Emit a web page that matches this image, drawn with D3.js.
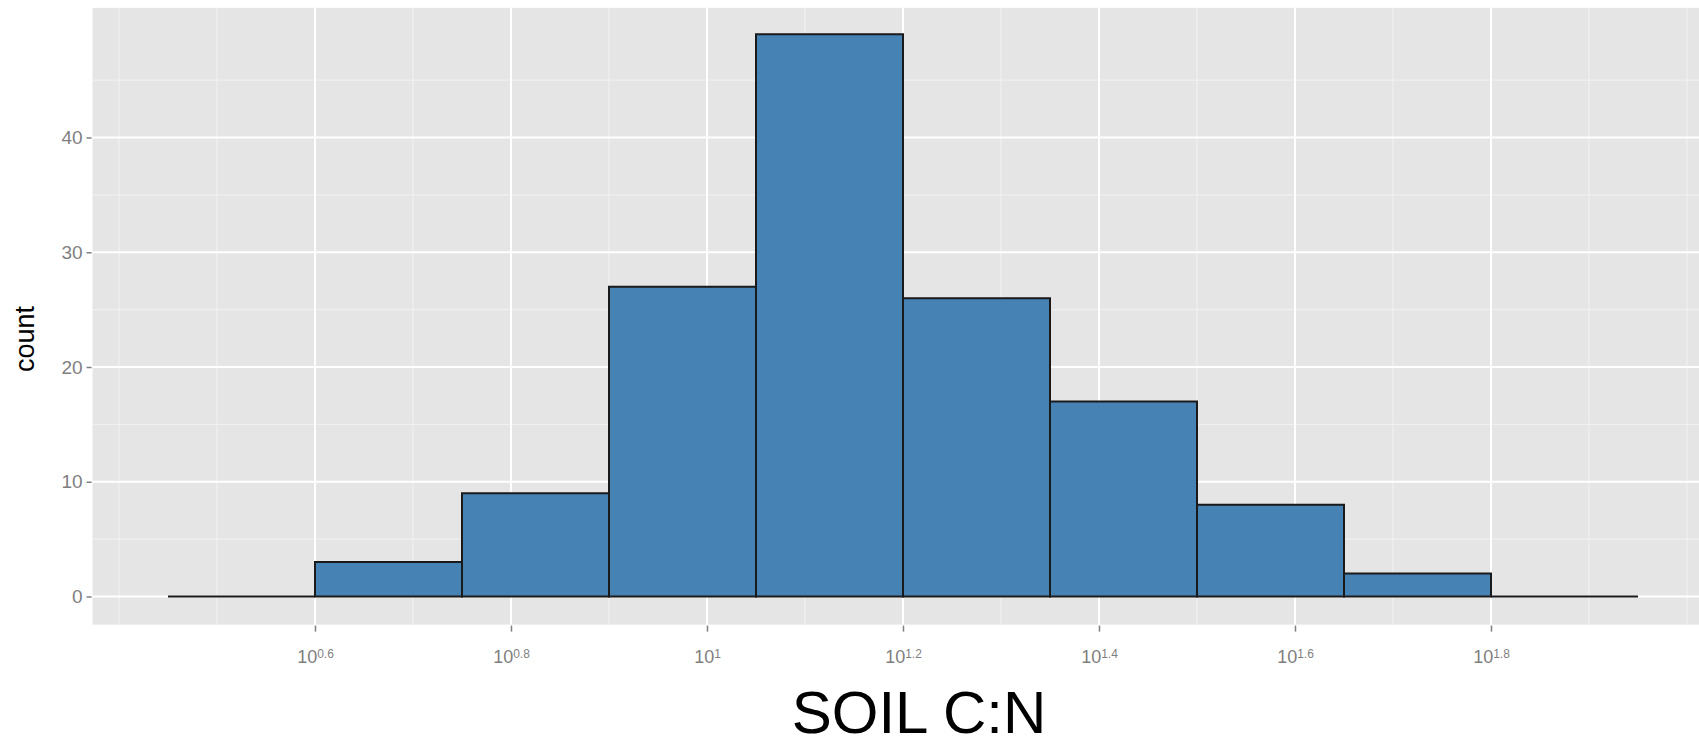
<!DOCTYPE html>
<html>
<head>
<meta charset="utf-8">
<script src="https://cdn.jsdelivr.net/npm/d3@7"></script>
<style>
  body { margin: 0; background: #fff; }
  svg { display: block; font-family: "Liberation Sans", Arial, sans-serif; }
</style>
</head>
<body>
<svg id="chart" width="1699" height="749"></svg>
<script>
// histogram of log10(soil C:N), bins of 0.15
const binStarts = [0.45, 0.6, 0.75, 0.9, 1.05, 1.2, 1.35, 1.5, 1.65, 1.8];
const counts    = [0, 3, 9, 27, 49, 26, 17, 8, 2, 0];
const binWidth = 0.15;

const xTicks = [0.6, 0.8, 1.0, 1.2, 1.4, 1.6, 1.8];
const xTickExp = ['0.6', '0.8', '1', '1.2', '1.4', '1.6', '1.8'];
const xMinor = [0.4, 0.5, 0.7, 0.9, 1.1, 1.3, 1.5, 1.7, 1.9, 2.0];
const yTicks = [0, 10, 20, 30, 40];
const yMinor = [5, 15, 25, 35, 45];

const svg = d3.select('#chart');

const x = d3.scaleLinear().domain([0.6, 1.8]).range([315, 1491]);
const y = d3.scaleLinear().domain([0, 40]).range([596.5, 137.5]);

// ggplot style 5% expansion
const xLo = 0.373, xHi = 2.025;
const yLo = -2.45, yHi = 51.3;

const panel = svg.append('g').attr('class', 'panel');

panel.append('rect')
    .attr('x', x(xLo))
    .attr('y', y(yHi))
    .attr('width', x(xHi) - x(xLo))
    .attr('height', y(yLo) - y(yHi))
    .attr('fill', '#e5e5e5');

// minor grid
panel.selectAll('.xminor')
    .data(xMinor)
    .enter()
    .append('line')
    .attr('x1', d => x(d)).attr('x2', d => x(d))
    .attr('y1', y(yHi)).attr('y2', y(yLo))
    .attr('stroke', '#f2f2f2')
    .attr('stroke-width', 1);

panel.selectAll('.yminor')
    .data(yMinor)
    .enter()
    .append('line')
    .attr('x1', x(xLo)).attr('x2', x(xHi))
    .attr('y1', d => y(d)).attr('y2', d => y(d))
    .attr('stroke', '#f2f2f2')
    .attr('stroke-width', 1);

// major grid
panel.selectAll('.xmajor')
    .data(xTicks)
    .enter()
    .append('line')
    .attr('x1', d => x(d)).attr('x2', d => x(d))
    .attr('y1', y(yHi)).attr('y2', y(yLo))
    .attr('stroke', '#ffffff')
    .attr('stroke-width', 2);

panel.selectAll('.ymajor')
    .data(yTicks)
    .enter()
    .append('line')
    .attr('x1', x(xLo)).attr('x2', x(xHi))
    .attr('y1', d => y(d)).attr('y2', d => y(d))
    .attr('stroke', '#ffffff')
    .attr('stroke-width', 2);

// bars (zero bins become a flat line)
panel.selectAll('.bar')
    .data(binStarts.map((s, i) => ({ x0: s, x1: s + binWidth, n: counts[i] })))
    .enter()
    .append('path')
    .attr('d', d => `M${x(d.x0)},${y(0)}V${y(d.n)}H${x(d.x1)}V${y(0)}Z`)
    .attr('fill', '#4682b4')
    .attr('stroke', '#1a1a1a')
    .attr('stroke-width', 2)
    .attr('stroke-linejoin', 'miter');

// axes
const yAxis = d3.axisLeft(y)
    .tickValues(yTicks)
    .tickSize(5)
    .tickPadding(4);

const yAx = svg.append('g')
    .attr('transform', `translate(${x(xLo) - 1},0)`)
    .call(yAxis);
yAx.select('.domain').remove();
yAx.selectAll('line').attr('stroke', '#7f7f7f').attr('stroke-width', 1.5);
yAx.selectAll('text')
    .attr('fill', '#7f7f7f')
    .style('font-size', '19px');

const xAxis = d3.axisBottom(x)
    .tickValues(xTicks)
    .tickSize(6)
    .tickPadding(10)
    .tickFormat(() => '');

const xAx = svg.append('g')
    .attr('transform', `translate(0,${y(yLo) + 1})`)
    .call(xAxis);
xAx.select('.domain').remove();
xAx.selectAll('line').attr('stroke', '#7f7f7f').attr('stroke-width', 1.5);
xAx.selectAll('text').each(function(d, i) {
    const t = d3.select(this)
        .attr('fill', '#7f7f7f')
        .attr('dy', '1.2em')
        .style('font-size', '18px');
    t.append('tspan').text('10');
    t.append('tspan')
        .attr('dy', '-0.45em')
        .style('font-size', '12px')
        .text(xTickExp[i]);
});

// axis titles
svg.append('text')
    .attr('x', 919)
    .attr('y', 733)
    .attr('text-anchor', 'middle')
    .attr('fill', '#000')
    .style('font-size', '60px')
    .text('SOIL C:N');

svg.append('text')
    .attr('transform', `translate(34,${y(20) - 28}) rotate(-90)`)
    .attr('text-anchor', 'middle')
    .attr('fill', '#000')
    .style('font-size', '27px')
    .text('count');
</script>
</body>
</html>
